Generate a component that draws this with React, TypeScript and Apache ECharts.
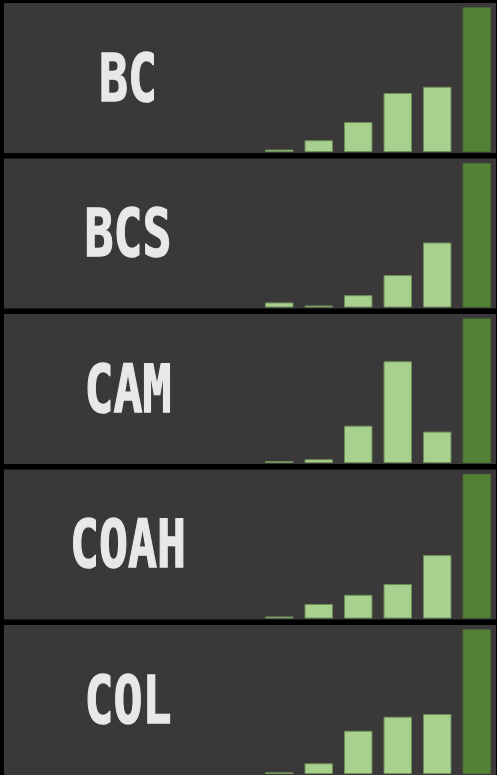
import React, { useEffect, useRef } from "react";
import * as echarts from "echarts";

const panelLabels = ["BC", "BCS", "CAM", "COAH", "COL"];
const categories = ["1", "2", "3", "4", "5", "6"];
const bcValues = [1.7, 8.1, 20.7, 40.8, 45.1, 100];
const bcsValues = [3.5, 1.4, 8.5, 22.4, 44.9, 100];
const camValues = [1.4, 2.6, 25.8, 70.3, 21.7, 100];
const coahValues = [1.4, 10, 16.4, 23.8, 43.8, 100];
const colValues = [1.2, 7.4, 29.9, 39.6, 41.4, 100];
const panelValues = [bcValues, bcsValues, camValues, coahValues, colValues];

const W = 497;
const H = 775;
const PANEL_TOP0 = 3;
const PANEL_STEP = 155.5;
const PANEL_H = 150;

export default function App() {
  const ref = useRef<HTMLDivElement>(null);
  useEffect(() => {
    if (!ref.current) return;
    const chart = echarts.init(ref.current, null, { renderer: "svg" });
    const grids: any[] = [];
    const xAxes: any[] = [];
    const yAxes: any[] = [];
    const series: any[] = [];
    const graphics: any[] = [];
    panelLabels.forEach((label, i) => {
      const top = PANEL_TOP0 + i * PANEL_STEP;
      graphics.push({
        type: "rect",
        z: 0,
        shape: { x: 4, y: top, width: 492, height: PANEL_H },
        style: { fill: "#3a3838" },
      });
      graphics.push({
        type: "text",
        z: 5,
        x: 128,
        y: top + 75,
        scaleX: 0.73,
        style: {
          text: label,
          fill: "#e8e8e8",
          stroke: "#e8e8e8",
          lineWidth: 1.5,
          font: "bold 66px 'DejaVu Sans Mono', Roboto, sans-serif",
          align: "center",
          verticalAlign: "middle",
          textAlign: "center",
          textVerticalAlign: "middle",
        },
      });
      grids.push({ left: 259.5, right: 0.5, top: top + 4.3, height: 144.7 });
      xAxes.push({
        type: "category",
        gridIndex: i,
        data: categories,
        boundaryGap: true,
        show: false,
      });
      yAxes.push({ type: "value", gridIndex: i, min: 0, max: 100, show: false });
      const vals = panelValues[i];
      series.push({
        type: "bar",
        xAxisIndex: i,
        yAxisIndex: i,
        barWidth: "72%",
        z: 2,
        data: vals.map((v, k) =>
          k === vals.length - 1
            ? { value: v, itemStyle: { color: "#538135", borderColor: "#4a6e34" } }
            : v
        ),
        itemStyle: { color: "#a9d18e", borderColor: "#6e8f5c", borderWidth: 1 },
      });
    });
    chart.setOption({
      animation: false,
      backgroundColor: "#000000",
      grid: grids,
      xAxis: xAxes,
      yAxis: yAxes,
      series,
      graphic: graphics,
    });
    return () => chart.dispose();
  }, []);
  return (
    <div
      ref={ref}
      style={{ position: "fixed", left: 0, top: 0, width: W, height: H }}
    />
  );
}
